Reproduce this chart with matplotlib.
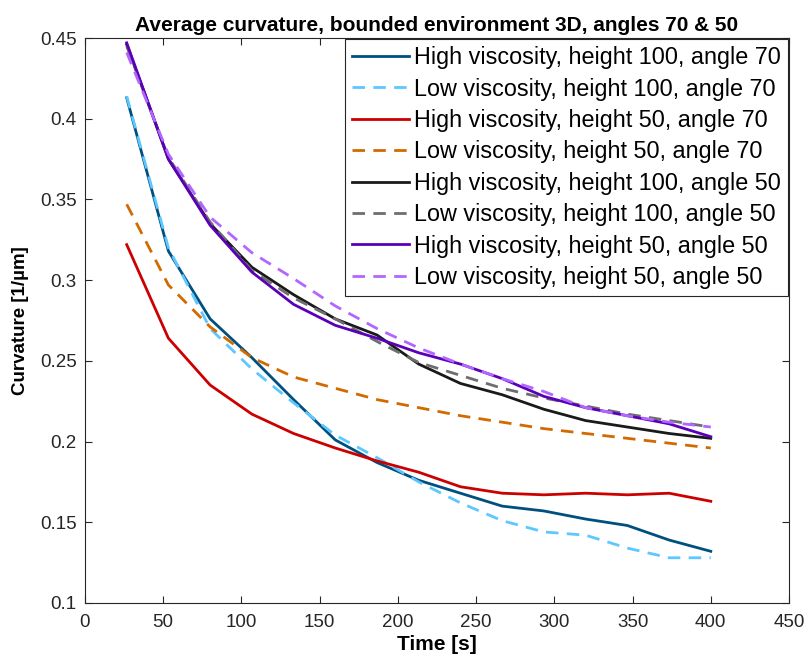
import matplotlib
matplotlib.use("Agg")
import matplotlib.pyplot as plt

plt.rcParams['font.family'] = ['Liberation Sans', 'DejaVu Sans']

# time points (s)
time = [26.67, 53.33, 80, 106.67, 133.33, 160, 186.67, 213.33,
        240, 266.67, 293.33, 320, 346.67, 373.33, 400]

hv_100_70 = [0.413, 0.318, 0.276, 0.252, 0.226, 0.201, 0.187, 0.176,
             0.168, 0.160, 0.157, 0.152, 0.148, 0.139, 0.132]
lv_100_70 = [0.414, 0.320, 0.270, 0.245, 0.224, 0.204, 0.190, 0.175,
             0.162, 0.151, 0.144, 0.142, 0.134, 0.128, 0.128]
hv_50_70 = [0.322, 0.264, 0.235, 0.217, 0.205, 0.196, 0.188, 0.181,
            0.172, 0.168, 0.167, 0.168, 0.167, 0.168, 0.163]
lv_50_70 = [0.347, 0.297, 0.271, 0.252, 0.240, 0.233, 0.226, 0.221,
            0.216, 0.212, 0.208, 0.205, 0.202, 0.199, 0.196]
hv_100_50 = [0.446, 0.375, 0.335, 0.308, 0.291, 0.276, 0.266, 0.248,
             0.236, 0.229, 0.220, 0.213, 0.209, 0.205, 0.202]
lv_100_50 = [0.445, 0.376, 0.336, 0.306, 0.289, 0.276, 0.262, 0.249,
             0.241, 0.233, 0.227, 0.222, 0.217, 0.213, 0.209]
hv_50_50 = [0.447, 0.375, 0.334, 0.305, 0.285, 0.272, 0.264, 0.255,
            0.248, 0.239, 0.228, 0.221, 0.216, 0.211, 0.203]
lv_50_50 = [0.441, 0.378, 0.339, 0.317, 0.301, 0.284, 0.270, 0.258,
            0.248, 0.239, 0.231, 0.221, 0.216, 0.212, 0.209]

series = [
    (hv_100_70, 'High viscosity, height 100, angle 70', '#00507f', '-'),
    (lv_100_70, 'Low viscosity, height 100, angle 70', '#5cc8ff', '--'),
    (hv_50_70, 'High viscosity, height 50, angle 70', '#cc0000', '-'),
    (lv_50_70, 'Low viscosity, height 50, angle 70', '#d26a00', '--'),
    (hv_100_50, 'High viscosity, height 100, angle 50', '#1a1a1a', '-'),
    (lv_100_50, 'Low viscosity, height 100, angle 50', '#6e6e6e', '--'),
    (hv_50_50, 'High viscosity, height 50, angle 50', '#5a00b8', '-'),
    (lv_50_50, 'Low viscosity, height 50, angle 50', '#b266ff', '--'),
]

fig = plt.figure(figsize=(8.07, 6.67), dpi=100)
ax = fig.add_axes([0.1053, 0.096, 0.8724, 0.847])

for vals, lab, col, ls in series:
    if ls == '--':
        ax.plot(time, vals, color=col, lw=2, linestyle=(0, (4.5, 3)), label=lab)
    else:
        ax.plot(time, vals, color=col, lw=2, label=lab)

ax.set_xlim(0, 450)
ax.set_ylim(0.1, 0.45)
ax.set_xticks(range(0, 451, 50))
ax.set_yticks([0.1, 0.15, 0.2, 0.25, 0.3, 0.35, 0.4, 0.45])
ax.set_yticklabels(['0.1', '0.15', '0.2', '0.25', '0.3', '0.35', '0.4', '0.45'])
ax.tick_params(direction='in', top=True, right=True, labelsize=13.5,
               colors='#262626', length=5, width=0.8)
ax.tick_params(axis='x', pad=8)
ax.tick_params(axis='y', pad=6)
for sp in ax.spines.values():
    sp.set_color('#262626')
    sp.set_linewidth(0.8)

ax.set_title('Average curvature, bounded environment 3D, angles 70 & 50',
             fontsize=15, fontweight='bold', pad=5)
ax.set_xlabel('Time [s]', fontsize=15, fontweight='bold', labelpad=3)
ax.set_ylabel('Curvature [1/\u00b5m]', fontsize=13.5, fontweight='bold', labelpad=8)

leg = ax.legend(loc='upper right', fontsize=16.8, handlelength=2.45,
                handletextpad=0.22, labelspacing=0.36, borderpad=0.3,
                borderaxespad=0.05, fancybox=False, framealpha=1)
leg.get_frame().set_edgecolor('#262626')
leg.get_frame().set_linewidth(0.8)

fig.savefig('out.png', dpi=100)
